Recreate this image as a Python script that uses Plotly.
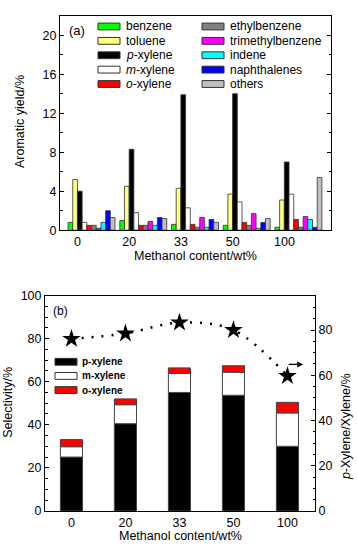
import plotly.graph_objects as go

# ---------------- data ----------------
categories = ["0", "20", "33", "50", "100"]

series_names_a = ["benzene", "toluene", "<i>p</i>-xylene", "<i>m</i>-xylene", "<i>o</i>-xylene",
                  "ethylbenzene", "trimethylbenzene", "indene", "naphthalenes", "others"]
benzene = [0.8, 1.0, 0.6, 0.5, 0.3]
toluene = [5.2, 4.5, 4.3, 3.7, 3.1]
p_xylene = [4.0, 8.3, 13.9, 14.0, 7.0]
m_xylene = [0.8, 1.8, 2.3, 2.9, 3.7]
o_xylene = [0.5, 0.5, 0.6, 0.8, 1.1]
ethylbenzene = [0.5, 0.5, 0.3, 0.5, 0.3]
trimethylbenzene = [0.2, 0.9, 1.3, 1.7, 1.4]
indene = [0.8, 0.5, 0.3, 0.2, 1.1]
naphthalenes = [2.0, 1.3, 1.1, 0.8, 0.3]
others = [1.3, 1.2, 0.8, 1.2, 5.4]

series_names_b = ["p-xylene", "m-xylene", "o-xylene"]
p_sel = [25.0, 40.5, 55.0, 53.7, 30.0]
m_sel = [4.8, 8.8, 8.8, 10.7, 15.5]
o_sel = [3.3, 2.7, 2.6, 3.0, 4.9]
px_ratio = [76.1, 78.5, 83.3, 80.0, 59.7]

# ---------------- styles ----------------
colors_a = ["#00FF00", "#FFFF80", "#000000", "#FFFFFF", "#FF0000",
            "#808080", "#FF00FF", "#00FFFF", "#0000FF", "#C0C0C0"]
colors_b = ["#000000", "#FFFFFF", "#FF0000"]
FONT = "Liberation Sans, Arial, sans-serif"
W, H = 357, 553


def px(x):
    return x / W


def py(y):
    return 1 - y / H


idx = list(range(len(categories)))
values_a = [benzene, toluene, p_xylene, m_xylene, o_xylene,
            ethylbenzene, trimethylbenzene, indene, naphthalenes, others]

fig = go.Figure()

# panel (a) grouped bars
for name, vals, col in zip(series_names_a, values_a, colors_a):
    fig.add_trace(go.Bar(
        x=idx, y=vals, name=name, showlegend=False,
        marker=dict(color=col, line=dict(color="#333333", width=0.8)),
        xaxis="x", yaxis="y"))

# panel (b) stacked bars (manual stacking via base)
base_m = [p for p in p_sel]
base_o = [p + m for p, m in zip(p_sel, m_sel)]
for name, vals, base, col in zip(series_names_b, [p_sel, m_sel, o_sel],
                                 [[0] * len(p_sel), base_m, base_o], colors_b):
    fig.add_trace(go.Bar(
        x=idx, y=vals, base=base, name=name, showlegend=False,
        offsetgroup="b", width=0.41,
        marker=dict(color=col, line=dict(color="#444444", width=1)),
        xaxis="x2", yaxis="y2"))

fig.add_trace(go.Scatter(
    x=idx, y=px_ratio, mode="lines+markers", showlegend=False,
    line=dict(color="black", width=2.5, dash="2px,8px", shape="spline"),
    marker=dict(symbol="star", size=14, color="black"),
    xaxis="x2", yaxis="y3"))

axis_common = dict(showline=True, linecolor="black", linewidth=1, showgrid=False,
                   zeroline=False, tickfont=dict(family=FONT, size=12.5, color="black"))

fig.update_layout(
    width=W, height=H,
    margin=dict(l=0, r=0, t=0, b=0),
    paper_bgcolor="white", plot_bgcolor="white",
    barmode="group", bargap=0.092, bargroupgap=0,
    font=dict(family=FONT, color="black"),
    xaxis=dict(domain=[px(60), px(331)], anchor="y", range=[-0.61, 4.63],
               tickmode="array", tickvals=[i - 0.27 for i in idx], ticktext=categories,
               ticks="", mirror=True, **axis_common),
    yaxis=dict(domain=[py(229), py(9)], anchor="x", range=[0, 22],
               tick0=0, dtick=4, ticks="inside", ticklen=4, tickcolor="black",
               minor=dict(dtick=2, ticks="inside", ticklen=2.5, tickcolor="black"),
               mirror="ticks", **axis_common),
    xaxis2=dict(domain=[px(45), px(315)], anchor="y2", range=[-0.49, 4.51],
                tickmode="array", tickvals=idx, ticktext=categories,
                ticks="", mirror=True, **axis_common),
    yaxis2=dict(domain=[py(517), py(296)], anchor="x2", range=[0, 100],
                tick0=0, dtick=20, ticks="inside", ticklen=4, tickcolor="black",
                minor=dict(dtick=5, ticks="inside", ticklen=2.5, tickcolor="black"),
                **axis_common),
    yaxis3=dict(overlaying="y2", side="right", anchor="x2", range=[0, 95.3],
                tick0=0, dtick=20, ticks="inside", ticklen=4, tickcolor="black",
                minor=dict(dtick=5, ticks="inside", ticklen=2.5, tickcolor="black"),
                **axis_common),
)

annotations = []
shapes = []


def text(x, y, s, size=12.5, angle=0, xanchor="center", bold=False):
    annotations.append(dict(
        x=px(x), y=py(y), xref="paper", yref="paper", text=s, showarrow=False,
        textangle=angle, xanchor=xanchor, yanchor="middle",
        font=dict(family=FONT, size=size, color="black",
                  weight="bold" if bold else "normal")))


# axis titles
text(195.5, 255, "Methanol content/wt%")
text(20, 118, "Aromatic yield/%", angle=-90)
text(180, 543, "Methanol content/wt%")
text(8, 406, "Selectivity/%", angle=-90)
text(346, 431, "<i>p</i>-Xylene/Xylene/%", angle=-90)

# panel labels
text(76.5, 24, "(a)", size=13)
text(60, 312, "(b)", size=12)

# legend (a): two columns of five rows
for k, (name, col) in enumerate(zip(series_names_a, colors_a)):
    c, r = divmod(k, 5)
    x0 = 98 + c * 104
    yc = 20 + r * 14.75
    shapes.append(dict(type="rect", xref="paper", yref="paper",
                       x0=px(x0), x1=px(x0 + 22), y0=py(yc + 3.5), y1=py(yc - 3.5),
                       fillcolor=col, line=dict(color="#333333", width=1)))
    text(x0 + 26, yc, name, size=12, xanchor="left")

# legend (b)
for r, (name, col) in enumerate(zip(series_names_b, colors_b)):
    yc = 364 + r * 14.5
    shapes.append(dict(type="rect", xref="paper", yref="paper",
                       x0=px(55), x1=px(77), y0=py(yc + 3.5), y1=py(yc - 3.5),
                       fillcolor=col, line=dict(color="#333333", width=1)))
    text(80, yc, name, size=10, xanchor="left", bold=True)

# arrow pointing to right axis
annotations.append(dict(x=4.29, y=64.8, xref="x2", yref="y3", ax=-16, ay=0,
                        showarrow=True, arrowhead=2, arrowsize=1, arrowwidth=1.2,
                        arrowcolor="black", text=""))

fig.update_layout(annotations=annotations, shapes=shapes)

fig.write_html("out.html",
               config={"displayModeBar": False},
               post_script="document.body.style.margin='0';document.body.style.padding='0';")
